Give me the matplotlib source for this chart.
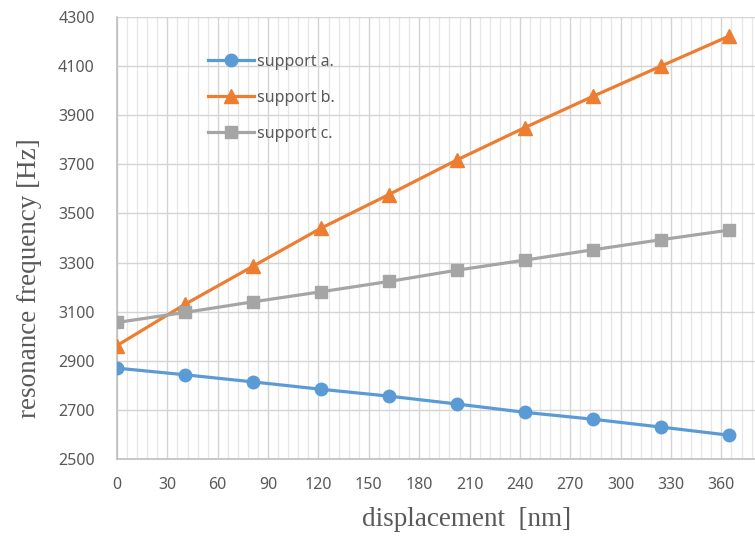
import matplotlib
matplotlib.use("Agg")
import matplotlib.pyplot as plt
from matplotlib.ticker import MultipleLocator

# Measured resonance frequencies for three support configurations
displacement = [0, 40.5, 81, 121.5, 162, 202.5, 243, 283.5, 324, 364.5]
support_a = [2870, 2843, 2814, 2784, 2756, 2724, 2690, 2662, 2630, 2597]
support_b = [2962, 3130, 3285, 3440, 3577, 3718, 3850, 3977, 4100, 4222]
support_c = [3056, 3097, 3140, 3181, 3223, 3269, 3310, 3352, 3393, 3432]

series_names = ["support a.", "support b.", "support c."]
x_ticks = list(range(0, 361, 30))
y_ticks = list(range(2500, 4301, 200))

W, H = 755, 537
fig = plt.figure(figsize=(W / 100, H / 100), dpi=100)
ax = fig.add_axes([117 / W, 78 / H, (755 - 117) / W, (459 - 17) / H])

blue, orange, gray = "#5B9BD5", "#ED7D31", "#A5A5A5"
text_gray = "#595959"

ax.plot(displacement, support_a, color=blue, lw=2.3, marker="o", ms=9,
        label=series_names[0], zorder=4)
ax.plot(displacement, support_b, color=orange, lw=2.3, marker="^", ms=10,
        label=series_names[1], zorder=4)
ax.plot(displacement, support_c, color=gray, lw=2.3, marker="s", ms=9,
        label=series_names[2], zorder=4)

ax.set_xlim(0, 380)
ax.set_ylim(2500, 4300)
ax.set_xticks(x_ticks)
ax.set_yticks(y_ticks)
ax.xaxis.set_minor_locator(MultipleLocator(6))

ax.grid(which="major", axis="both", color="#d4d4d4", lw=1.0, zorder=0)
ax.grid(which="minor", axis="x", color="#e6e6e6", lw=0.9, zorder=0)
ax.set_axisbelow(True)

for side in ("top", "right"):
    ax.spines[side].set_visible(False)
for side in ("left", "bottom"):
    ax.spines[side].set_color("#bfbfbf")
    ax.spines[side].set_linewidth(1.2)

ax.tick_params(which="both", length=0)
ax.tick_params(axis="x", pad=13, labelsize=11.5, labelcolor=text_gray)
ax.tick_params(axis="y", pad=16, labelsize=11.5, labelcolor=text_gray)
for lbl in ax.get_xticklabels() + ax.get_yticklabels():
    lbl.set_fontfamily("Noto Sans")

serif = "Liberation Serif"
ax.set_xlabel("displacement  [nm]", family=serif, fontsize=19.5,
              color=text_gray, va="center")
ax.xaxis.set_label_coords((467 - 117) / (755 - 117), (459 - 520) / 442)
ax.set_ylabel("resonance frequency [Hz]", family=serif, fontsize=19.5,
              color=text_gray, va="center")
ax.yaxis.set_label_coords((30 - 117) / (755 - 117), (459 - 278) / 442)

leg = ax.legend(loc="upper left", bbox_to_anchor=(200 / W, 1 - 46 / H),
                bbox_transform=fig.transFigure, frameon=False,
                prop={"family": "Noto Sans", "size": 11.5},
                handlelength=2.9, handletextpad=0.15, labelspacing=1.25,
                borderpad=0.0)
for t in leg.get_texts():
    t.set_color(text_gray)

fig.savefig("out.png", dpi=100)
